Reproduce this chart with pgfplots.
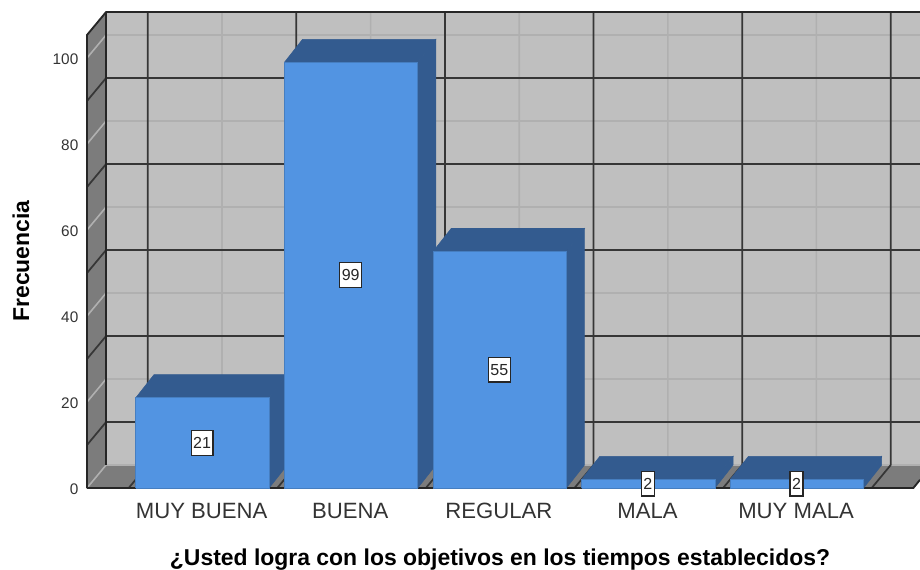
\documentclass[border=0pt]{standalone}
\usepackage{fontspec}
\setmainfont{Liberation Sans}
\usepackage{pgfplots}
\pgfplotsset{compat=1.18}
\definecolor{wallback}{HTML}{BFBFBF}
\definecolor{wallside}{HTML}{7C7C7C}
\definecolor{griddark}{HTML}{363636}
\definecolor{gridlight}{HTML}{B0B0B0}
\definecolor{barfront}{HTML}{5294E2}
\definecolor{bardark}{HTML}{335B8F}
\begin{document}
\begin{tikzpicture}[x=0.75pt,y=0.75pt]
\path[use as bounding box] (-87,-81) rectangle (833,488);
\begin{axis}[
  at={(0,0)}, anchor=south west,
  scale only axis, width=624.75pt, height=357pt,
  xmin=-0.7806, xmax=4.825, ymin=0, ymax=110.7,
  clip=false, unbounded coords=jump,
  axis x line=bottom, axis y line=left,
  axis line style={draw=none},
  major tick length=0pt,
  xtick={0,1,2,3,4},
  xticklabels={MUY BUENA,BUENA,REGULAR,MALA,MUY MALA},
  ytick={0,20,40,60,80,100},
  /pgf/number format/assume math mode=true,
  xticklabel style={font=\fontsize{16.6}{18}\selectfont, text=black!80, text height=12pt, text depth=0pt, yshift=-7.5pt, xshift=-1pt},
  yticklabel style={font=\fontsize{11.5}{13}\selectfont, text=black!80, xshift=-3pt, yshift=-1.2pt},
  xlabel={¿Usted logra con los objetivos en los tiempos establecidos?},
  ylabel={Frecuencia},
  xlabel style={font=\fontsize{17.2}{18}\bfseries, at={(axis description cs:0.4958,-0.151)}, anchor=center},
  ylabel style={font=\fontsize{17.2}{18}\bfseries, at={(axis description cs:-0.0792,0.477)}, anchor=center},
  no marks,
]
% side wall and floor
\addplot[fill=wallback, draw=none] coordinates {(-0.652,5.35) (4.825,5.35) (4.825,110.7) (-0.652,110.7) (-0.652,5.35)};
\addplot[fill=wallside, draw=none] coordinates {(-0.7806,0) (-0.652,5.35) (-0.652,110.7) (-0.7806,105.35) (-0.7806,0)};
\addplot[fill=wallside, draw=none] coordinates {(-0.7806,0) (4.78,0) (4.825,1.9) (4.825,5.35) (-0.652,5.35) (-0.7806,0)};
% light grid
\addplot[gridlight, line width=1.2pt] coordinates {
 (0.128,5.35) (0.128,110.7) (0,nan) (1.128,5.35) (1.128,110.7) (0,nan)
 (2.128,5.35) (2.128,110.7) (0,nan) (3.128,5.35) (3.128,110.7) (0,nan)
 (4.128,5.35) (4.128,110.7) (0,nan)
 (-0.652,25.35) (4.825,25.35) (0,nan) (-0.652,45.35) (4.825,45.35) (0,nan)
 (-0.652,65.35) (4.825,65.35) (0,nan) (-0.652,85.35) (4.825,85.35) (0,nan)
 (-0.652,105.35) (4.825,105.35) (0,nan) (-0.652,5.35) (4.825,5.35) (0,nan)
 (-0.7806,20) (-0.652,25.35) (0,nan) (-0.7806,40) (-0.652,45.35) (0,nan)
 (-0.7806,60) (-0.652,65.35) (0,nan) (-0.7806,80) (-0.652,85.35) (0,nan)
 (-0.7806,100) (-0.652,105.35) (0,nan) (-0.7806,0) (-0.652,5.35)
};
% dark grid
\addplot[griddark, line width=1.3pt] coordinates {
 (-0.372,5.35) (-0.372,110.7) (0,nan) (0.628,5.35) (0.628,110.7) (0,nan)
 (1.628,5.35) (1.628,110.7) (0,nan) (2.628,5.35) (2.628,110.7) (0,nan)
 (3.628,5.35) (3.628,110.7) (0,nan) (4.628,5.35) (4.628,110.7) (0,nan)
 (-0.652,15.35) (4.825,15.35) (0,nan) (-0.652,35.35) (4.825,35.35) (0,nan)
 (-0.652,55.35) (4.825,55.35) (0,nan) (-0.652,75.35) (4.825,75.35) (0,nan)
 (-0.652,95.35) (4.825,95.35) (0,nan)
 (-0.7806,10) (-0.652,15.35) (0,nan) (-0.7806,30) (-0.652,35.35) (0,nan)
 (-0.7806,50) (-0.652,55.35) (0,nan) (-0.7806,70) (-0.652,75.35) (0,nan)
 (-0.7806,90) (-0.652,95.35) (0,nan)
 (-0.5,0) (-0.372,5.35) (0,nan) (0.5,0) (0.628,5.35) (0,nan)
 (1.5,0) (1.628,5.35) (0,nan) (2.5,0) (2.628,5.35) (0,nan)
 (3.5,0) (3.628,5.35) (0,nan) (4.5,0) (4.628,5.35)
};
% frame
\addplot[black!85, line width=1.4pt] coordinates {(-0.7806,0) (-0.7806,105.35) (-0.652,110.7) (4.825,110.7)};
\addplot[black!85, line width=1.4pt] coordinates {(-0.652,5.35) (-0.652,110.7)};
\addplot[black!85, line width=1.4pt] coordinates {(-0.7806,0) (4.78,0) (4.825,1.9)};
% MUY BUENA
\addplot[fill=bardark, draw=bardark, line width=.4pt] coordinates {(0.445,0) (0.567,5.35) (0.567,26.35) (0.445,21) (0.445,0)};
\addplot[fill=bardark, draw=bardark, line width=.4pt] coordinates {(-0.452,21) (-0.33,26.35) (0.567,26.35) (0.445,21) (-0.452,21)};
\addplot[fill=barfront, draw=barfront!85!black, line width=.6pt] coordinates {(-0.452,0) (0.445,0) (0.445,21) (-0.452,21) (-0.452,0)};
% BUENA
\addplot[fill=bardark, draw=bardark, line width=.4pt] coordinates {(1.445,0) (1.567,5.35) (1.567,104.35) (1.445,99) (1.445,0)};
\addplot[fill=bardark, draw=bardark, line width=.4pt] coordinates {(0.548,99) (0.67,104.35) (1.567,104.35) (1.445,99) (0.548,99)};
\addplot[fill=barfront, draw=barfront!85!black, line width=.6pt] coordinates {(0.548,0) (1.445,0) (1.445,99) (0.548,99) (0.548,0)};
% REGULAR
\addplot[fill=bardark, draw=bardark, line width=.4pt] coordinates {(2.445,0) (2.567,5.35) (2.567,60.35) (2.445,55) (2.445,0)};
\addplot[fill=bardark, draw=bardark, line width=.4pt] coordinates {(1.548,55) (1.67,60.35) (2.567,60.35) (2.445,55) (1.548,55)};
\addplot[fill=barfront, draw=barfront!85!black, line width=.6pt] coordinates {(1.548,0) (2.445,0) (2.445,55) (1.548,55) (1.548,0)};
% MALA
\addplot[fill=bardark, draw=bardark, line width=.4pt] coordinates {(3.445,0) (3.567,5.35) (3.567,7.35) (3.445,2) (3.445,0)};
\addplot[fill=bardark, draw=bardark, line width=.4pt] coordinates {(2.548,2) (2.67,7.35) (3.567,7.35) (3.445,2) (2.548,2)};
\addplot[fill=barfront, draw=barfront!85!black, line width=.6pt] coordinates {(2.548,0) (3.445,0) (3.445,2) (2.548,2) (2.548,0)};
% MUY MALA
\addplot[fill=bardark, draw=bardark, line width=.4pt] coordinates {(4.445,0) (4.567,5.35) (4.567,7.35) (4.445,2) (4.445,0)};
\addplot[fill=bardark, draw=bardark, line width=.4pt] coordinates {(3.548,2) (3.67,7.35) (4.567,7.35) (4.445,2) (3.548,2)};
\addplot[fill=barfront, draw=barfront!85!black, line width=.6pt] coordinates {(3.548,0) (4.445,0) (4.445,2) (3.548,2) (3.548,0)};
% value labels at half the bar height
\addplot[draw=none, point meta=explicit symbolic,
  nodes near coords,
  nodes near coords align={anchor=center},
  nodes near coords style={anchor=center, fill=white, draw=black!85, line width=.9pt,
    font=\fontsize{12}{12}\selectfont, inner xsep=1.5pt, inner ysep=0pt, xshift=-0.7pt,
    minimum height=18.5pt, text=black!85}]
  coordinates {(0,10.5)[21] (1,49.5)[99] (2,27.5)[55] (3,1)[2] (4,1)[2]};
\end{axis}
\end{tikzpicture}
\end{document}
